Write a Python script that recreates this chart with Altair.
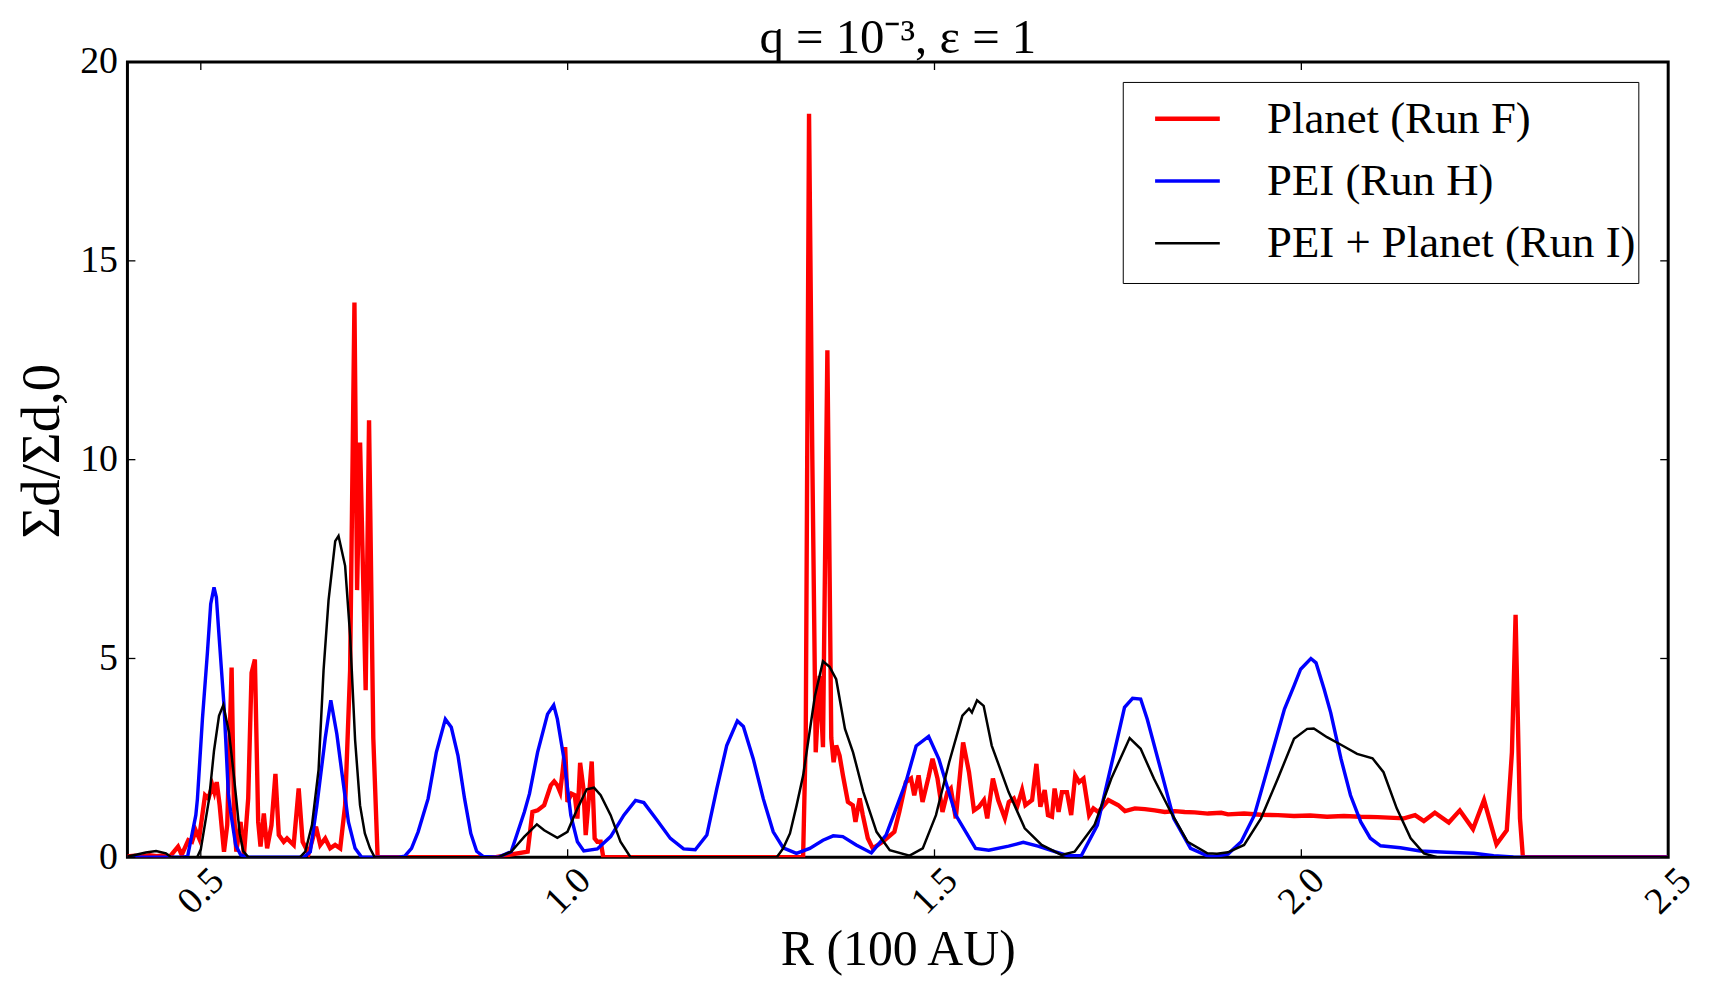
import altair as alt
import pandas as pd

SERIES = ["Planet (Run F)", "PEI (Run H)", "PEI + Planet (Run I)"]
COLORS = ["#ff0000", "#0000ff", "#000000"]
WIDTHS = [4.4, 2.5, 2.5]

X_TICKS = [0.5, 1.0, 1.5, 2.0, 2.5]
Y_TICKS = [0, 5, 10, 15, 20]

# Planet (Run F)
red_r = [0.400, 0.410, 0.420, 0.430, 0.440, 0.450, 0.458, 0.469, 0.474, 0.483, 0.488,
         0.493, 0.4977, 0.5058, 0.5104, 0.5158, 0.5185, 0.5217, 0.5257, 0.5316, 0.536,
         0.542, 0.5452, 0.5484, 0.5542, 0.5588, 0.5646, 0.5692, 0.5737, 0.5782, 0.5814,
         0.5859, 0.5904, 0.5963, 0.6017, 0.6063, 0.613, 0.6175, 0.6266, 0.6334, 0.6388,
         0.647, 0.657, 0.6628, 0.6696, 0.6763, 0.6831, 0.690, 0.6967, 0.7035, 0.7094,
         0.713, 0.7171, 0.7247, 0.7293, 0.7351, 0.741, 0.800, 0.900, 0.9455, 0.952,
         0.959, 0.968, 0.977, 0.9816, 0.986, 0.9898, 0.993, 0.9966, 0.9997, 1.0052,
         1.0097, 1.0133, 1.017, 1.0215, 1.0246, 1.0292, 1.0328, 1.0368, 1.0404, 1.045,
         1.0486, 1.100, 1.200, 1.300, 1.3209, 1.3245, 1.329, 1.3335, 1.3381, 1.3435,
         1.348, 1.354, 1.3593, 1.3625, 1.366, 1.3706, 1.3752, 1.382, 1.3887, 1.3923,
         1.398, 1.4023, 1.4091, 1.4159, 1.4294, 1.4453, 1.452, 1.461, 1.468, 1.4724,
         1.4783, 1.4837, 1.4919, 1.4973, 1.5041, 1.5109, 1.5176, 1.5222, 1.529, 1.539,
         1.547, 1.5538, 1.5606, 1.5674, 1.5719, 1.5796, 1.5868, 1.5959, 1.6013, 1.6081,
         1.6126, 1.6194, 1.6239, 1.633, 1.6389, 1.6443, 1.6502, 1.6547, 1.6601, 1.6637,
         1.6691, 1.6737, 1.6805, 1.6863, 1.6918, 1.6972, 1.7031, 1.7108, 1.7166, 1.7234,
         1.737, 1.7506, 1.7596, 1.7732, 1.7867, 1.8003, 1.8139, 1.8275, 1.841, 1.8546,
         1.8727, 1.8908, 1.900, 1.922, 1.945, 1.968, 1.990, 2.012, 2.035, 2.058, 2.081,
         2.104, 2.126, 2.140, 2.155, 2.167, 2.182, 2.201, 2.216, 2.234, 2.249, 2.266,
         2.280, 2.287, 2.292, 2.298, 2.302, 2.400, 2.500]
red_v = [0.02, 0.04, 0.02, 0.05, 0.03, 0.05, 0.02, 0.27, 0.06, 0.43, 0.39,
         0.68, 0.475, 1.56, 1.48, 1.81, 1.64, 1.89, 1.31, 0.14, 0.81,
         4.77, 1.14, 0.14, 0.89, 0.06, 1.48, 4.64, 4.975, 0.89, 0.27,
         1.10, 0.225, 0.81, 2.10, 0.56, 0.39, 0.475, 0.31, 1.73, 0.39,
         0.10, 0.77, 0.31, 0.475, 0.225, 0.31, 0.225, 1.31, 4.70, 13.95,
         6.72, 10.43, 4.20, 10.99, 3.00, 0.00, 0.00, 0.00, 0.14, 1.14,
         1.18, 1.31, 1.81, 1.91, 1.81, 1.64, 2.14, 2.77, 1.39, 1.60,
         1.56, 0.975, 2.375, 1.725, 0.56, 1.56, 2.41, 0.475, 0.39, 0.39,
         0.00, 0.00, 0.00, 0.00, 0.00, 3.00, 18.70, 10.00, 2.64, 4.56,
         2.77, 12.75, 3.00, 2.39, 2.81, 2.56, 2.06, 1.39, 1.31, 0.89,
         1.48, 1.06, 0.48, 0.225, 0.39, 0.64, 1.14, 1.89, 1.98, 1.56,
         2.06, 1.39, 2.02, 2.48, 1.98, 1.14, 1.64, 1.73, 0.98, 2.89,
         2.14, 1.18, 1.27, 1.44, 0.98, 1.98, 1.44, 0.98, 1.39, 1.48,
         1.27, 1.69, 1.31, 1.44, 2.35, 1.27, 1.69, 1.06, 1.02, 1.73,
         1.14, 1.64, 1.64, 1.06, 2.06, 1.89, 1.98, 1.06, 1.23, 1.14,
         1.44, 1.31, 1.16, 1.23, 1.21, 1.18, 1.14, 1.16, 1.14, 1.13,
         1.10, 1.12, 1.08, 1.10, 1.07, 1.06, 1.04, 1.05, 1.02, 1.04, 1.02,
         1.01, 0.99, 0.98, 1.06, 0.91, 1.12, 0.875, 1.18, 0.71, 1.44, 0.325,
         0.68, 2.64, 6.10, 0.98, 0.00, 0.00, 0.00]

# PEI (Run H)
blue_r = [0.400, 0.450, 0.475, 0.482, 0.4932, 0.4954, 0.5022, 0.509, 0.5135, 0.518,
          0.5212, 0.5248, 0.5316, 0.5339, 0.5375, 0.5407, 0.5475, 0.5543, 0.565, 0.640,
          0.6492, 0.6582, 0.6696, 0.6772, 0.6854, 0.6922, 0.7012, 0.7103, 0.7193, 0.770,
          0.778, 0.7872, 0.7962, 0.8098, 0.821, 0.8333, 0.8414, 0.8505, 0.8595, 0.868,
          0.876, 0.885, 0.905, 0.923, 0.941, 0.948, 0.959, 0.9726, 0.981, 0.986,
          0.995, 1.0043, 1.0133, 1.022, 1.0404, 1.0586, 1.0766, 1.0925, 1.1038, 1.1219,
          1.140, 1.158, 1.1739, 1.1897, 1.2033, 1.2168, 1.2313, 1.2395, 1.253, 1.2666,
          1.2802, 1.2937, 1.3118, 1.330, 1.348, 1.362, 1.375, 1.3933, 1.414, 1.434,
          1.461, 1.475, 1.492, 1.506, 1.529, 1.556, 1.574, 1.601, 1.621, 1.641,
          1.664, 1.682, 1.700, 1.722, 1.745, 1.759, 1.770, 1.781, 1.790, 1.808,
          1.826, 1.849, 1.872, 1.880, 1.900, 1.918, 1.936, 1.954, 1.977, 1.990,
          1.999, 2.013, 2.020, 2.031, 2.040, 2.054, 2.067, 2.081, 2.094, 2.108,
          2.135, 2.162, 2.198, 2.235, 2.262, 2.289, 2.300, 2.500]
blue_v = [0.00, 0.00, 0.00, 0.02, 1.06, 1.47, 3.475, 5.15, 6.37, 6.79,
          6.54, 5.58, 3.82, 2.975, 1.60, 1.14, 0.31, 0.06, 0.00, 0.00,
          0.14, 1.30, 3.00, 3.95, 3.10, 2.14, 0.89, 0.225, 0.00, 0.00,
          0.03, 0.225, 0.64, 1.475, 2.64, 3.475, 3.27, 2.56, 1.475, 0.60,
          0.15, 0.02, 0.00, 0.14, 1.14, 1.60, 2.64, 3.60, 3.83, 3.475,
          2.475, 1.06, 0.39, 0.16, 0.21, 0.52, 1.06, 1.43, 1.375, 0.93,
          0.475, 0.21, 0.19, 0.56, 1.725, 2.81, 3.43, 3.29, 2.475, 1.475,
          0.64, 0.24, 0.10, 0.225, 0.43, 0.54, 0.52, 0.31, 0.11, 0.56,
          1.89, 2.80, 3.04, 2.47, 1.06, 0.225, 0.18, 0.28, 0.375, 0.28,
          0.14, 0.04, 0.04, 0.81, 2.64, 3.77, 4.00, 3.98, 3.47, 2.23,
          0.98, 0.225, 0.04, 0.02, 0.08, 0.39, 1.06, 2.23, 3.73, 4.31,
          4.73, 5.00, 4.89, 4.23, 3.64, 2.48, 1.56, 0.89, 0.48, 0.29,
          0.24, 0.16, 0.125, 0.10, 0.04, 0.008, 0.00, 0.00]

# PEI + Planet (Run I)
black_r = [0.400, 0.410, 0.425, 0.439, 0.4525, 0.459, 0.470, 0.495, 0.500, 0.5113,
           0.518, 0.5248, 0.5307, 0.5384, 0.5438, 0.5483, 0.553, 0.558, 0.565, 0.635,
           0.6424, 0.6515, 0.6605, 0.6673, 0.6741, 0.6832, 0.6877, 0.6967, 0.7035, 0.7103,
           0.717, 0.7236, 0.7306, 0.737, 0.880, 0.905, 0.923, 0.941, 0.958, 0.968,
           0.986, 0.9997, 1.0133, 1.026, 1.0359, 1.045, 1.0586, 1.072, 1.0857, 1.285,
           1.2937, 1.303, 1.312, 1.321, 1.337, 1.348, 1.357, 1.366, 1.378, 1.389,
           1.403, 1.421, 1.439, 1.466, 1.484, 1.502, 1.520, 1.538, 1.547, 1.551,
           1.558, 1.567, 1.578, 1.601, 1.623, 1.646, 1.673, 1.691, 1.718, 1.741,
           1.766, 1.781, 1.799, 1.822, 1.845, 1.872, 1.885, 1.900, 1.922, 1.945,
           1.968, 1.990, 2.008, 2.017, 2.035, 2.054, 2.076, 2.097, 2.112, 2.130,
           2.149, 2.167, 2.185, 2.500]
black_v = [0.02, 0.06, 0.12, 0.16, 0.10, 0.01, 0.00, 0.00, 0.20, 1.47,
           2.68, 3.56, 3.83, 3.14, 2.27, 1.47, 0.60, 0.15, 0.00, 0.00,
           0.14, 0.81, 2.20, 4.70, 6.46, 7.95, 8.08, 7.33, 5.58, 2.95,
           1.31, 0.60, 0.225, 0.00, 0.00, 0.00, 0.14, 0.52, 0.83, 0.68,
           0.49, 0.64, 1.225, 1.71, 1.75, 1.56, 1.06, 0.39, 0.00, 0.00,
           0.225, 0.60, 1.30, 2.06, 4.06, 4.93, 4.79, 4.48, 3.23, 2.64,
           1.64, 0.64, 0.18, 0.04, 0.225, 1.06, 2.39, 3.56, 3.74, 3.64,
           3.95, 3.81, 2.81, 1.64, 0.73, 0.31, 0.06, 0.14, 0.81, 1.98,
           3.00, 2.73, 1.98, 1.14, 0.39, 0.10, 0.09, 0.125, 0.31, 0.98,
           1.98, 2.98, 3.23, 3.24, 3.02, 2.83, 2.60, 2.49, 2.14, 1.23,
           0.48, 0.10, 0.00, 0.00]

rows = []
for name, rs, vs in zip(SERIES, [red_r, blue_r, black_r], [red_v, blue_v, black_v]):
    for r, v in zip(rs, vs):
        rows.append({"series": name, "R": r, "S": v})
df = pd.DataFrame(rows)

W, H = 1548, 799
FONT = "Liberation Serif"
xscale = alt.Scale(domain=[0.4, 2.5], nice=False, zero=False)
yscale = alt.Scale(domain=[0, 20], nice=False, zero=False)

legend = alt.Legend(
    title=" ", titleOrient="bottom", titleFontSize=10, titlePadding=5,
    orient="none", legendX=1000, legendY=20,
    symbolType="stroke", symbolSize=4225, labelFontSize=45, labelFont=FONT,
    labelOffset=45, padding=2, symbolOffset=28, rowPadding=5,
    strokeColor="black", fillColor="white", labelLimit=800,
)

lines = alt.Chart(df).mark_line(clip=True).encode(
    x=alt.X("R:Q", scale=xscale, axis=alt.Axis(
        values=X_TICKS, format=".1f", labelAngle=315, labelAlign="center",
        labelBaseline="middle", labelPadding=34, labelFontSize=38, labelFont=FONT,
        title="R (100 AU)", titleFontSize=50, titleFont=FONT, titleFontWeight="normal",
        titleY=108, titleBaseline="alphabetic", ticks=False, domain=False, grid=False,
        labelOverlap=False, labelFlush=False, labelBound=False, labelColor="black",
        titleColor="black")),
    y=alt.Y("S:Q", scale=yscale, axis=alt.Axis(
        values=Y_TICKS, labelFontSize=38, labelFont=FONT, labelPadding=10,
        title="Σd/Σd,0", titleFontSize=55, titleFont=FONT, titleFontWeight="normal",
        titleAngle=270, titleX=-86, titleY=H / 2 - 9, titleAlign="center",
        titleBaseline="middle", ticks=False, domain=False, grid=False,
        labelOverlap=False, labelFlush=False, labelBound=False, labelColor="black",
        titleColor="black")),
    color=alt.Color("series:N", scale=alt.Scale(domain=SERIES, range=COLORS), legend=legend),
    strokeWidth=alt.StrokeWidth("series:N", scale=alt.Scale(domain=SERIES, range=WIDTHS), legend=legend),
)

# tick marks drawn inward on all four sides (same field names so axes merge)
xt = pd.DataFrame({"R": X_TICKS})
yt = pd.DataFrame({"S": Y_TICKS})
tick_style = dict(color="black", strokeWidth=1.3)
bottom = alt.Chart(xt).mark_rule(**tick_style).encode(
    x=alt.X("R:Q", scale=xscale), y=alt.value(H), y2=alt.value(H - 8))
top = alt.Chart(xt).mark_rule(**tick_style).encode(
    x=alt.X("R:Q", scale=xscale), y=alt.value(0), y2=alt.value(8))
left = alt.Chart(yt).mark_rule(**tick_style).encode(
    y=alt.Y("S:Q", scale=yscale), x=alt.value(0), x2=alt.value(8))
right = alt.Chart(yt).mark_rule(**tick_style).encode(
    y=alt.Y("S:Q", scale=yscale), x=alt.value(W), x2=alt.value(W - 8))

chart = alt.layer(lines, bottom, top, left, right).properties(
    width=W, height=H,
    title=alt.TitleParams("q = 10⁻³, ε = 1", font=FONT, fontSize=49, fontWeight="normal",
                          anchor="middle", offset=5, baseline="alphabetic", color="black",
                          frame="group", dy=64),
    padding={"left": 120, "top": 52, "right": 40, "bottom": 124},
    autosize=alt.AutoSizeParams(type="none"),
).configure_view(stroke="black", strokeWidth=3)

chart.save("out.html", embed_options={"renderer": "svg", "actions": False})
